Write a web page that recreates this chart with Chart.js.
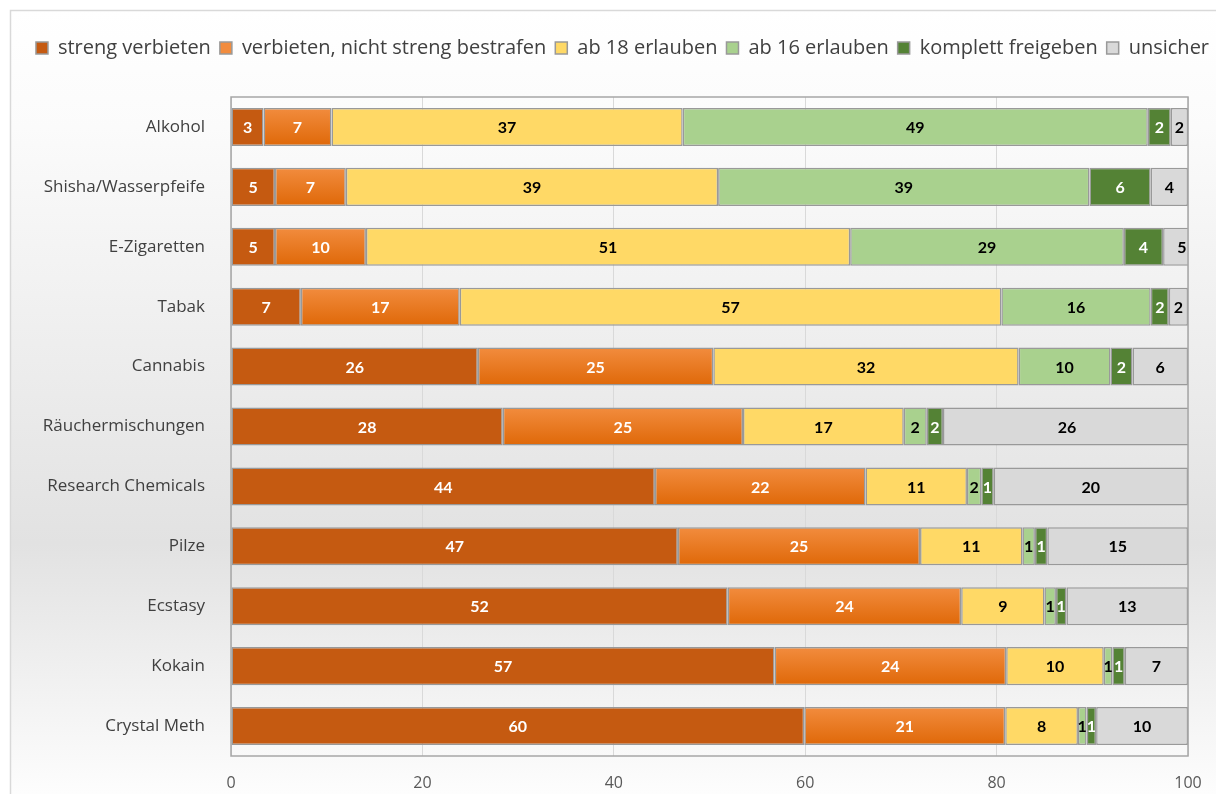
<!DOCTYPE html>
<html lang="de">
<head>
<meta charset="utf-8">
<title>Umgang mit Drogen</title>
<script src="https://cdn.jsdelivr.net/npm/chart.js@4.4.1/dist/chart.umd.min.js"></script>
<style>
  html, body { margin: 0; padding: 0; background: #fff; }
  canvas { display: block; }
</style>
</head>
<body>
<canvas id="chart" width="1216" height="794"></canvas>
<script>
// values in percent (labels show the rounded value)
const categories = ['Alkohol', 'Shisha/Wasserpfeife', 'E-Zigaretten', 'Tabak', 'Cannabis',
  'Räuchermischungen', 'Research Chemicals', 'Pilze', 'Ecstasy', 'Kokain', 'Crystal Meth'];
const seriesNames = ['streng verbieten', 'verbieten, nicht streng bestrafen', 'ab 18 erlauben',
  'ab 16 erlauben', 'komplett freigeben', 'unsicher'];

const strengVerbieten = [3.4, 4.6, 4.6, 7.3, 25.8, 28.4, 44.3, 46.7, 51.9, 56.8, 59.9];
const verbieten       = [7.1, 7.4, 9.5, 16.6, 24.6, 25.1, 22.0, 25.3, 24.4, 24.2, 21.0];
const ab18            = [36.7, 38.9, 50.6, 56.6, 31.9, 16.8, 10.6, 10.7, 8.7, 10.2, 7.6];
const ab16            = [48.6, 38.8, 28.6, 15.6, 9.6, 2.4, 1.5, 1.3, 1.2, 0.9, 0.9];
const komplett        = [2.4, 6.4, 4.1, 1.9, 2.3, 1.7, 1.3, 1.3, 1.1, 1.3, 1.0];
const unsicher        = [1.8, 3.9, 4.7, 2.0, 5.8, 25.9, 20.3, 14.7, 12.7, 6.6, 9.6];

const xTicks = [0, 20, 40, 60, 80, 100];

const fills = ['#c55a11', '#ed7d31', '#ffd966', '#a9d18e', '#548235', '#d9d9d9'];
const labelColors = ['#ffffff', '#ffffff', '#000000', '#000000', '#ffffff', '#000000'];
const barPct = 0.635;

// orange bars have a light-to-dark vertical gradient
function orangeFill(ctx) {
  const chart = ctx.chart;
  if (ctx.type !== 'data' || !chart.chartArea) return '#ed7d31';
  const y = chart.scales.y.getPixelForValue(ctx.dataIndex);
  const half = chart.chartArea.height / categories.length * barPct / 2;
  const g = chart.ctx.createLinearGradient(0, y - half, 0, y + half);
  g.addColorStop(0, '#f28c3e');
  g.addColorStop(1, '#df6808');
  return g;
}

const frame = {
  id: 'frame',
  beforeDraw(chart) {
    const c = chart.ctx, w = chart.width, h = chart.height;
    const g = c.createLinearGradient(0, 10, 0, h);
    g.addColorStop(0, '#ffffff');
    g.addColorStop(0.15, '#fbfbfb');
    g.addColorStop(0.68, '#e2e2e2');
    g.addColorStop(1, '#fdfdfd');
    c.save();
    c.fillStyle = '#ffffff';
    c.fillRect(0, 0, w, h);
    c.fillStyle = g;
    c.fillRect(10, 10, w, h);
    c.strokeStyle = '#d9d9d9';
    c.lineWidth = 1.5;
    c.strokeRect(10.5, 10.5, w, h);
    c.restore();
  }
};

// one legend row across the full width, plot pushed down below it
const legendGap = {
  id: 'legendGap',
  beforeLayout(chart) {
    const lg = chart.legend;
    if (!lg || lg._gap) return;
    const fit = lg.fit;
    lg.fit = function () { this.maxWidth = chart.width + 40; fit.call(this); this.height = 68; };
    lg._gap = true;
  },
  afterLayout(chart) {
    chart.legend.left = 5;
    chart.legend.right = 1240;
    chart.legend.width = 1235;
  }
};

const valueLabels = {
  id: 'valueLabels',
  afterDatasetsDraw(chart) {
    const c = chart.ctx, area = chart.chartArea;
    c.save();
    c.strokeStyle = '#a6a6a6';
    c.lineWidth = 1.5;
    c.strokeRect(area.left, area.top, area.right - area.left, area.bottom - area.top);
    c.font = 'bold 16px Lato, "Open Sans", sans-serif';
    c.textAlign = 'center';
    c.textBaseline = 'middle';
    chart.data.datasets.forEach((ds, i) => {
      chart.getDatasetMeta(i).data.forEach((bar, j) => {
        const x = Math.min((bar.x + bar.base) / 2, area.right - 6);
        c.fillStyle = labelColors[i];
        c.fillText(String(Math.round(ds.data[j])), x, bar.y + 1);
      });
    });
    c.restore();
  }
};

const seriesData = [strengVerbieten, verbieten, ab18, ab16, komplett, unsicher];

new Chart(document.getElementById('chart'), {
  type: 'bar',
  data: {
    labels: categories,
    datasets: seriesNames.map((name, i) => ({
      label: name,
      data: seriesData[i],
      backgroundColor: i === 1 ? orangeFill : fills[i],
      borderColor: '#999999',
      borderWidth: 1.5,
      borderSkipped: false,
      categoryPercentage: 1,
      barPercentage: barPct,
      clip: 0
    }))
  },
  options: {
    indexAxis: 'y',
    responsive: false,
    animation: false,
    layout: { padding: { top: 29, left: 10, right: 28, bottom: 0 } },
    plugins: {
      legend: {
        position: 'top',
        labels: {
          boxWidth: 12,
          boxHeight: 12,
          padding: 9,
          color: '#404040',
          font: { family: '"Open Sans", sans-serif', size: 20 }
        }
      },
      tooltip: { enabled: false }
    },
    scales: {
      x: {
        stacked: true,
        min: 0,
        max: 100,
        afterBuildTicks: s => { s.ticks = xTicks.map(v => ({ value: v })); },
        afterFit: s => { s.height = 38; s.paddingLeft = 0; s.paddingRight = 0; },
        grid: { color: '#d9d9d9', lineWidth: 1, drawTicks: false },
        border: { display: false },
        ticks: { color: '#595959', padding: 18, font: { family: '"Open Sans", sans-serif', size: 16 } }
      },
      y: {
        stacked: true,
        afterFit: s => { s.width = 221; },
        grid: { display: false },
        border: { display: false },
        ticks: { color: '#404040', padding: 18, font: { family: '"Open Sans", sans-serif', size: 17 } }
      }
    }
  },
  plugins: [frame, legendGap, valueLabels]
});
</script>
</body>
</html>
